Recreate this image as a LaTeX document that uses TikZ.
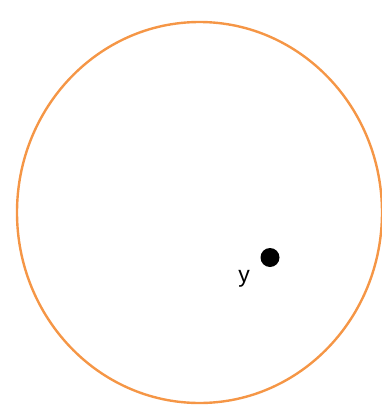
\documentclass[tikz,border=0pt]{standalone}
\usepackage{fontspec}
\setmainfont{Liberation Sans}
\begin{document}
\begin{tikzpicture}[x=1pt,y=-1pt,
  ring/.style={draw={rgb,255:red,245;green,150;blue,70},line width=2.4pt},
  dotmark/.style={circle,fill=black,inner sep=0pt,minimum size=19pt},
  lbl/.style={font=\fontsize{23}{26}\selectfont,inner sep=0pt}]
\useasboundingbox (0,0) rectangle (382,405);
\draw[ring] (199.5,212.5) ellipse [x radius=182.5, y radius=190.5];
\node[dotmark] (p) at (270,257.5) {};
\node[lbl,anchor=base] (y) at (244,282) {y};
\end{tikzpicture}
\end{document}
